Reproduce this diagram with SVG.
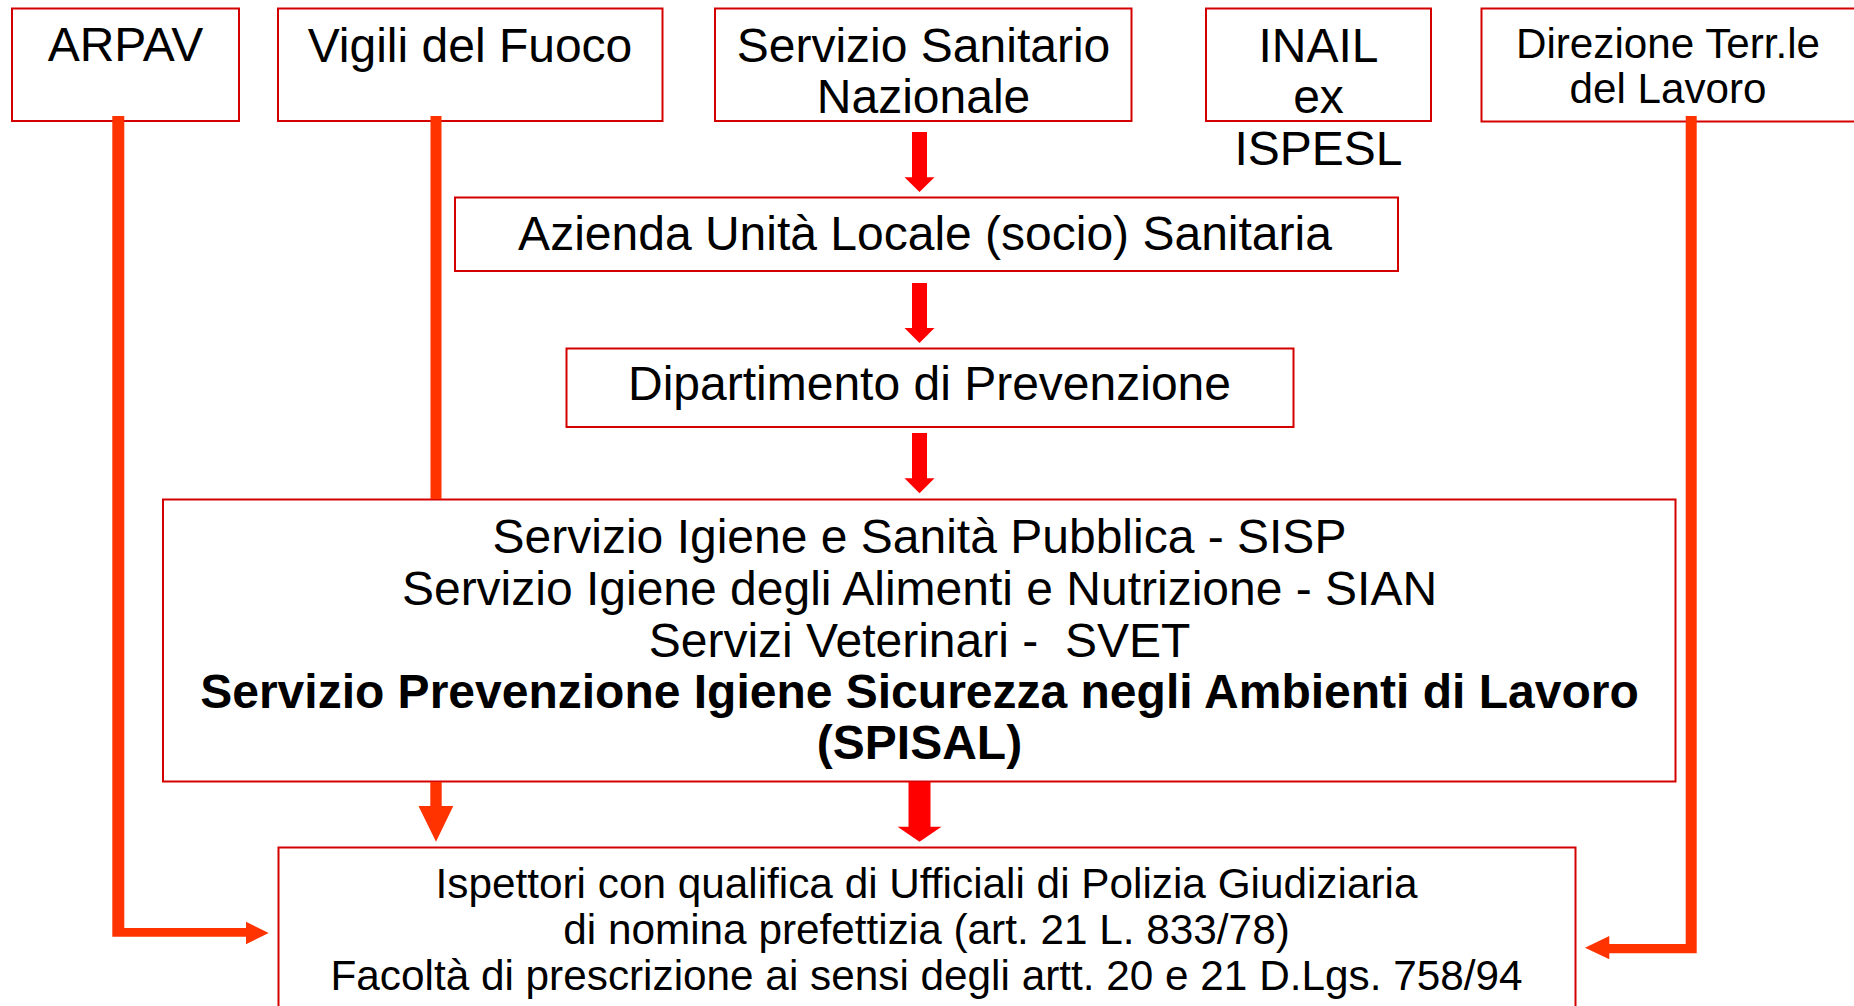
<svg xmlns="http://www.w3.org/2000/svg" width="1854" height="1006" viewBox="0 0 1854 1006">
<style>
.box{fill:#ffffff;stroke:#d40000;stroke-width:2}
text{font-family:"Liberation Sans",Arial,sans-serif;fill:#000;text-anchor:middle}
.t{font-size:48px}
.s{font-size:42.2px}
.b{font-size:42.3px}
.bold{font-weight:bold}
.red{fill:#ff0000}
.org{fill:#ff3300}
</style>
<rect width="1854" height="1006" fill="#ffffff"/>
<g id="arpav">
<rect class="box" x="12" y="8.5" width="227" height="112.5"/>
<text class="t" x="125.5" y="61">ARPAV</text>
</g>
<g id="vigili">
<rect class="box" x="278" y="8.5" width="384.5" height="112.5"/>
<text class="t" x="470" y="62">Vigili del Fuoco</text>
</g>
<g id="ssn">
<rect class="box" x="715" y="8.5" width="416.5" height="112.5"/>
<text class="t" x="923.5" y="61.5">Servizio Sanitario</text>
<text class="t" x="923.5" y="112.5">Nazionale</text>
</g>
<g id="inail">
<rect class="box" x="1206" y="8.5" width="225" height="112.5"/>
<text class="t" x="1318.5" y="61.5">INAIL</text>
<text class="t" x="1318.5" y="113">ex</text>
<text class="t" x="1318.5" y="164.5">ISPESL</text>
</g>
<g id="direzione">
<rect class="box" x="1481.5" y="8.5" width="380" height="113"/>
<text class="s" x="1668" y="58">Direzione Terr.le</text>
<text class="s" x="1668" y="103">del Lavoro</text>
</g>
<g id="azienda">
<rect class="box" x="455" y="197.5" width="943" height="73.5"/>
<text class="t" x="925" y="250">Azienda Unità Locale (socio) Sanitaria</text>
</g>
<g id="dipartimento">
<rect class="box" x="566.5" y="348.5" width="727" height="78.5"/>
<text class="t" x="929.5" y="399.5">Dipartimento di Prevenzione</text>
</g>
<g id="servizi">
<rect class="box" x="163" y="499.5" width="1512.5" height="282"/>
<text class="t" x="919.5" y="553">Servizio Igiene e Sanità Pubblica - SISP</text>
<text class="t" x="919.5" y="605">Servizio Igiene degli Alimenti e Nutrizione - SIAN</text>
<text class="t" x="919.5" y="657" style="white-space:pre">Servizi Veterinari -  SVET</text>
<text class="t bold" x="919.5" y="708">Servizio Prevenzione Igiene Sicurezza negli Ambienti di Lavoro</text>
<text class="t bold" x="919.5" y="759">(SPISAL)</text>
</g>
<g id="ispettori">
<rect class="box" x="278.5" y="847.5" width="1297" height="180"/>
<text class="b" x="926.5" y="898">Ispettori con qualifica di Ufficiali di Polizia Giudiziaria</text>
<text class="b" x="926.5" y="944">di nomina prefettizia (art. 21 L. 833/78)</text>
<text class="b" x="926.5" y="990">Facoltà di prescrizione ai sensi degli artt. 20 e 21 D.Lgs. 758/94</text>
</g>
<g id="connectors">
<polygon class="red" points="912,132 927,132 927,177.3 934.5,177.3 919.5,192 904.5,177.3 912,177.3"/>
<polygon class="red" points="912,283 927,283 927,328 934.5,328 919.5,343 904.5,328 912,328"/>
<polygon class="red" points="912,433 927,433 927,478.3 934.5,478.3 919.5,493.3 904.5,478.3 912,478.3"/>
<polygon class="red" points="908.5,782 930.5,782 930.5,826.7 941.5,826.7 919.5,841.7 897.5,826.7 908.5,826.7"/>
<rect class="org" x="430.5" y="116" width="11" height="383"/>
<polygon class="org" points="430.3,782 441.7,782 441.7,806 453.3,806 436,841.7 418.5,806 430.3,806"/>
<polygon class="org" points="112.3,116 124.3,116 124.3,928 246,928 246,921.7 268.7,933 246,944.3 246,936.7 112.3,936.7"/>
<polygon class="org" points="1696.7,116 1685.7,116 1685.7,944 1609.3,944 1609.3,936 1585,947.7 1609.3,959.3 1609.3,953.3 1696.7,953.3"/>
</g>
</svg>
